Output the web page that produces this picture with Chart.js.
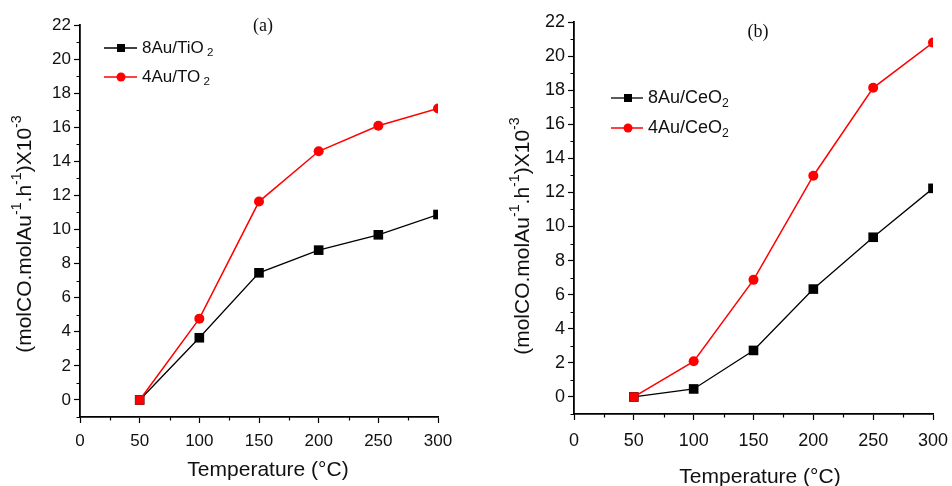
<!DOCTYPE html>
<html>
<head>
<meta charset="utf-8">
<script src="https://cdn.jsdelivr.net/npm/chart.js@4.4.0/dist/chart.umd.min.js"></script>
<style>
  html, body { margin: 0; padding: 0; background: #fff; }
  .panel { position: absolute; top: 0; width: 476px; height: 486px; }
</style>
</head>
<body>
<div class="panel" style="left:0"><canvas id="chartA" width="476" height="486"></canvas></div>
<div class="panel" style="left:476px"><canvas id="chartB" width="476" height="486"></canvas></div>
<script>
// temperatures (°C)
const temperatures = [50, 100, 150, 200, 250, 300];

// panel (a) - TiO2 support
const tio2_8Au = [0, 3.65, 7.46, 8.79, 9.69, 10.88];
const tio2_4Au = [0, 4.77, 11.64, 14.59, 16.09, 17.10];

// panel (b) - CeO2 support
const ceo2_8Au = [0, 0.47, 2.73, 6.33, 9.37, 12.24];
const ceo2_4Au = [0, 2.09, 6.87, 12.98, 18.14, 20.79];

// labelled ticks
const xTickLabels = [0, 50, 100, 150, 200, 250, 300];
const yTickLabels = [0, 2, 4, 6, 8, 10, 12, 14, 16, 18, 20, 22];

const RED = '#ff0000';
const BLACK = '#000000';
const SANS = '"Liberation Sans", Arial, sans-serif';

function toPoints(values) {
    return temperatures.map((t, i) => ({ x: t, y: values[i] }));
}

// draws text made of pieces: [text, 0 normal | 1 superscript | -1 subscript]
function drawRich(ctx, parts, x, y, size, align) {
    const widths = parts.map(p => {
        ctx.font = (p[1] ? size * 0.68 : size) + 'px ' + SANS;
        return ctx.measureText(p[0]).width;
    });
    const total = widths.reduce((a, b) => a + b, 0);
    let cx = align === 'center' ? x - total / 2 : x;
    ctx.textAlign = 'left';
    ctx.textBaseline = 'middle';
    parts.forEach((p, i) => {
        ctx.font = (p[1] ? size * 0.68 : size) + 'px ' + SANS;
        let dy = 0;
        if (p[1] === 1) dy = -size * 0.38;
        if (p[1] === -1) dy = size * 0.3;
        ctx.fillText(p[0], cx, y + dy);
        cx += widths[i];
    });
}

const yTitleParts = [
    ['(molCO.molAu', 0], ['-1', 1], ['.h', 0], ['-1', 1], [')X10', 0], ['-3', 1]
];

const decorPlugin = {
    id: 'decor',
    afterDraw(chart) {
        const ctx = chart.ctx;
        const d = chart.options.plugins.decor;
        const xs = chart.scales.x, ys = chart.scales.y;
        const area = chart.chartArea;
        ctx.save();
        // minor ticks
        ctx.strokeStyle = BLACK;
        ctx.lineWidth = 1.2;
        ctx.beginPath();
        ys.ticks.forEach(t => {
            if (yTickLabels.includes(t.value)) return;
            const py = Math.round(ys.getPixelForValue(t.value)) + 0.5;
            ctx.moveTo(area.left, py);
            ctx.lineTo(area.left - 3.5, py);
        });
        xs.ticks.forEach(t => {
            if (xTickLabels.includes(t.value)) return;
            const px = Math.round(xs.getPixelForValue(t.value)) + 0.5;
            ctx.moveTo(px, area.bottom);
            ctx.lineTo(px, area.bottom + 3.5);
        });
        ctx.stroke();

        // axis titles
        ctx.fillStyle = '#111';
        drawRich(ctx, [['Temperature (°C)', 0]], d.xTitle[0], d.xTitle[1], d.titleSize, 'center');
        ctx.save();
        ctx.translate(d.yTitle[0], d.yTitle[1]);
        ctx.rotate(-Math.PI / 2);
        drawRich(ctx, yTitleParts, 0, 0, d.titleSize, 'center');
        ctx.restore();

        // panel label
        ctx.font = d.panelSize + 'px "Liberation Serif", "Times New Roman", serif';
        ctx.textAlign = 'center';
        ctx.textBaseline = 'middle';
        ctx.fillText(d.panel, d.panelPos[0], d.panelPos[1]);

        // legend
        chart.data.datasets.forEach(ds => {
            const row = d.legendRows[ds.legendRow];
            const lg = d.legend;
            ctx.strokeStyle = ds.borderColor;
            ctx.lineWidth = ds.borderWidth;
            ctx.beginPath();
            ctx.moveTo(lg.x1, row);
            ctx.lineTo(lg.x2, row);
            ctx.stroke();
            ctx.fillStyle = ds.borderColor;
            if (ds.legendMarker === 'rect') {
                ctx.fillRect(lg.mx - 4, row - 4, 8, 8);
            } else {
                ctx.beginPath();
                ctx.arc(lg.mx, row, 4.5, 0, Math.PI * 2);
                ctx.fill();
            }
            ctx.fillStyle = '#111';
            drawRich(ctx, ds.legendParts, lg.tx, row, d.legendSize, 'left');
        });
        ctx.restore();
    }
};

function makeChart(id, black, red, names, lay) {
    const redStyles = temperatures.map((t, i) => i === 0 ? 'rect' : 'circle');
    const redRadius = temperatures.map((t, i) => i === 0 ? 6.5 : 5);
    return new Chart(document.getElementById(id).getContext('2d'), {
        type: 'line',
        data: {
            datasets: [
                {
                    label: names[0],
                    data: toPoints(black),
                    borderColor: BLACK,
                    backgroundColor: BLACK,
                    borderWidth: 1.3,
                    pointStyle: 'rect',
                    pointRadius: 6.8,
                    pointBorderWidth: 0,
                    order: 1,
                    legendRow: 0,
                    legendMarker: 'rect',
                    legendParts: names[0]
                },
                {
                    label: names[1],
                    data: toPoints(red),
                    borderColor: RED,
                    backgroundColor: RED,
                    borderWidth: 1.5,
                    pointStyle: redStyles,
                    pointRadius: redRadius,
                    pointBorderWidth: 0,
                    order: 0,
                    legendRow: 1,
                    legendMarker: 'circle',
                    legendParts: names[1]
                }
            ]
        },
        options: {
            responsive: false,
            animation: false,
            layout: {
                autoPadding: false,
                padding: { top: lay.top, right: lay.right, left: 0, bottom: 0 }
            },
            plugins: {
                legend: { display: false },
                tooltip: { enabled: false },
                decor: lay.decor
            },
            scales: {
                x: {
                    type: 'linear',
                    min: 0,
                    max: 300,
                    afterFit: s => {
                        s.height = lay.xHeight;
                        s.paddingLeft = 0;
                        s.paddingRight = 0;
                    },
                    ticks: {
                        stepSize: 25,
                        autoSkip: false,
                        maxRotation: 0,
                        padding: lay.xPad,
                        color: '#111',
                        font: { family: SANS, size: lay.tickSize },
                        callback: v => xTickLabels.includes(v) ? String(v) : ''
                    },
                    grid: {
                        drawOnChartArea: false,
                        drawTicks: true,
                        tickLength: 6,
                        tickWidth: 1.2,
                        tickColor: c => xTickLabels.includes(c.tick.value) ? BLACK : 'rgba(0,0,0,0)'
                    },
                    border: { display: true, color: BLACK, width: 1.8 }
                },
                y: {
                    type: 'linear',
                    min: -1,
                    max: 22,
                    afterFit: s => {
                        s.width = lay.yWidth;
                        s.paddingTop = 0;
                        s.paddingBottom = 0;
                    },
                    ticks: {
                        stepSize: 1,
                        autoSkip: false,
                        padding: 3,
                        color: '#111',
                        font: { family: SANS, size: lay.tickSize },
                        callback: v => yTickLabels.includes(v) ? String(v) : ''
                    },
                    grid: {
                        drawOnChartArea: false,
                        drawTicks: true,
                        tickLength: 6,
                        tickWidth: 1.2,
                        tickColor: c => yTickLabels.includes(c.tick.value) ? BLACK : 'rgba(0,0,0,0)'
                    },
                    border: { display: true, color: BLACK, width: 1.8 }
                }
            }
        },
        plugins: [decorPlugin]
    });
}

makeChart('chartA', tio2_8Au, tio2_4Au,
    [[['8Au/TiO', 0], [' 2', -1]], [['4Au/TO', 0], [' 2', -1]]],
    {
        top: 25, right: 38, yWidth: 80, xHeight: 69, xPad: 8, tickSize: 17,
        decor: {
            xTitle: [268, 470], yTitle: [25, 234], titleSize: 21,
            panel: '(a)', panelPos: [263, 26], panelSize: 18,
            legend: { x1: 104, x2: 137, mx: 121, tx: 142 },
            legendRows: [48, 77], legendSize: 17
        }
    });

makeChart('chartB', ceo2_8Au, ceo2_4Au,
    [[['8Au/CeO', 0], ['2', -1]], [['4Au/CeO', 0], ['2', -1]]],
    {
        top: 22, right: 19, yWidth: 98, xHeight: 72, xPad: 10, tickSize: 18,
        decor: {
            xTitle: [284, 477], yTitle: [47, 236], titleSize: 21,
            panel: '(b)', panelPos: [282, 32], panelSize: 18,
            legend: { x1: 135, x2: 167, mx: 152, tx: 172 },
            legendRows: [98, 128], legendSize: 18
        }
    });
</script>
</body>
</html>
